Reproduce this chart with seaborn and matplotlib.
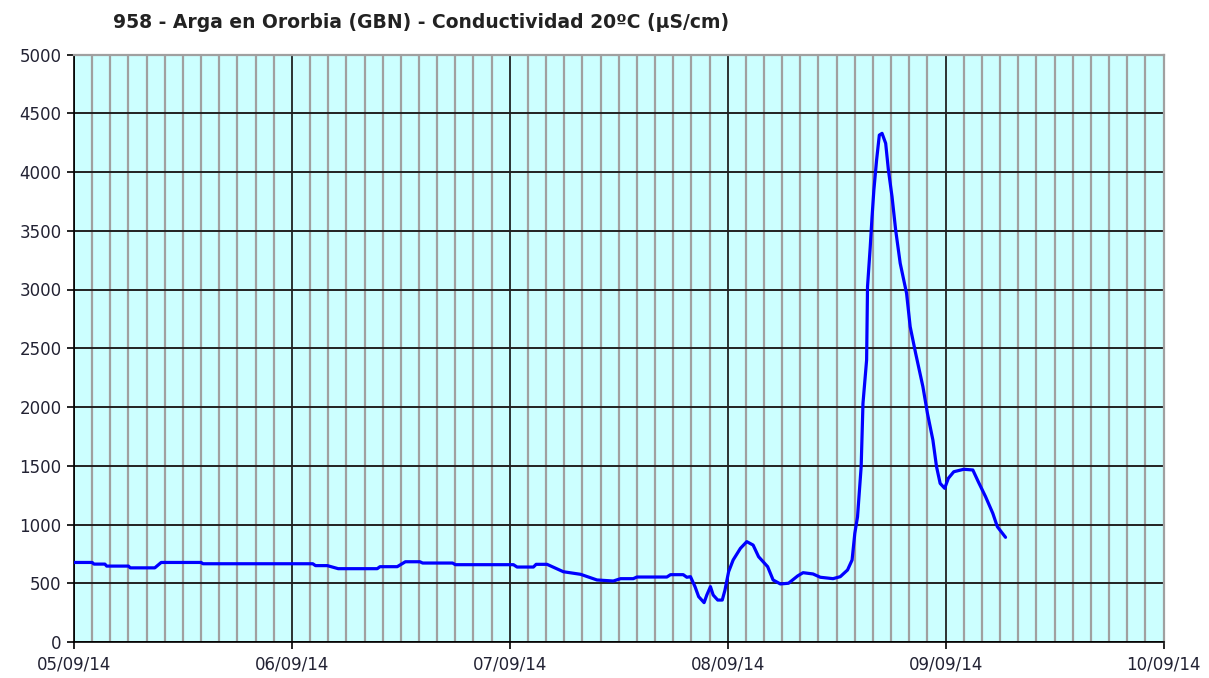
import numpy as np
import pandas as pd
import matplotlib
matplotlib.use("Agg")
import matplotlib.pyplot as plt
import matplotlib.dates as mdates
import seaborn as sns

title = "958 - Arga en Ororbia (GBN) - Conductividad 20ºC (µS/cm)"
start = "2014-09-05 00:00"
# hours since 05/09/14 00:00
hours = [0, 2.0, 2.2, 3.4, 3.6, 6.0, 6.2, 8.9, 9.6, 14.0,
         14.2, 26.3, 26.6, 27.9, 29.1, 33.4, 33.7, 35.6, 36.5, 38.1,
         38.4, 41.7, 42.0, 48.4, 48.8, 50.6, 50.9, 52.1, 53.9, 55.8,
         57.6, 59.4, 60.2, 61.6, 62.0, 65.3, 65.7, 67.1, 67.5, 67.9,
         68.4, 68.8, 69.4, 69.7, 70.1, 70.4, 70.9, 71.4, 71.7, 72.1,
         72.6, 73.4, 74.1, 74.8, 75.4, 76.4, 77.0, 77.8, 78.7, 79.7,
         80.3, 81.4, 82.2, 83.6, 84.4, 85.2, 85.7, 86.0, 86.3, 86.7,
         86.9, 87.3, 87.4, 87.7, 87.9, 88.1, 88.4, 88.7, 89.0, 89.4,
         89.7, 90.1, 90.5, 91.0, 91.7, 92.1, 92.7, 93.5, 94.0, 94.6,
         95.0, 95.4, 95.9, 96.3, 96.9, 98.0, 99.0, 99.6, 100.4, 101.2,
         101.7, 102.6]
values = [677, 677, 663, 663, 646, 646, 631, 631, 677, 677,
          666, 666, 650, 650, 624, 624, 641, 641, 683, 683,
          672, 672, 658, 658, 638, 638, 661, 661, 598, 576,
          528, 519, 539, 539, 553, 553, 573, 573, 551, 556,
          471, 386, 335, 400, 471, 400, 357, 357, 442, 598,
          698, 797, 854, 825, 726, 641, 528, 494, 500, 562,
          590, 579, 551, 539, 556, 613, 698, 925, 1066, 1492,
          2031, 2400, 3024, 3364, 3619, 3847, 4102, 4314, 4329, 4244,
          4017, 3790, 3506, 3223, 2968, 2683, 2457, 2173, 1946, 1719,
          1492, 1350, 1308, 1393, 1449, 1470, 1464, 1364, 1237, 1095,
          981, 891]
x_start = "2014-09-05"
x_end = "2014-09-10"
y_ticks = list(range(0, 5001, 500))

df = pd.DataFrame({
    "time": pd.Timestamp(start) + pd.to_timedelta(hours, unit="h"),
    "value": values,
})

sns.set_style("white")
plt.rcParams['font.family'] = ['DejaVu Sans']

fig = plt.figure(figsize=(12.09, 6.78), dpi=100)
ax = fig.add_axes([74/1209, 1-642/678, (1163.5-74)/1209, (642-54.5)/678])
ax.set_facecolor("#CCFFFF")

ax.xaxis.set_minor_locator(mdates.HourLocator(byhour=range(0, 24, 2)))
ax.xaxis.set_major_locator(mdates.DayLocator())
ax.xaxis.set_major_formatter(mdates.DateFormatter("%d/%m/%y"))
ax.grid(which="minor", axis="x", color="#A0A0A0", linewidth=1.6, zorder=0)
ax.grid(which="major", axis="x", color="#111111", linewidth=1.2, zorder=1)
ax.grid(which="major", axis="y", color="#222222", linewidth=1.4, zorder=1)
ax.set_axisbelow(True)

sns.lineplot(data=df, x="time", y="value", ax=ax, color="#0000FF", linewidth=2.3, zorder=3)

ax.set_xlim(pd.Timestamp(x_start), pd.Timestamp(x_end))
ax.set_ylim(0, 5000)
ax.set_yticks(y_ticks)
ax.set_xlabel("")
ax.set_ylabel("")

for s in ["top", "right"]:
    ax.spines[s].set_color("#A0A0A0")
    ax.spines[s].set_linewidth(1.6)
for s in ["left", "bottom"]:
    ax.spines[s].set_color("black")
    ax.spines[s].set_linewidth(1.2)

ax.tick_params(axis="both", which="major", direction="out", length=5, width=1.2,
               color="black", labelsize=12, labelcolor="#222233", pad=4, bottom=True, left=True)
ax.tick_params(axis="x", which="minor", length=0)
ax.tick_params(axis="x", which="major", pad=5)

fig.text(113/1209, 1-22/678, title, ha="left", va="center", fontsize=13.5,
         fontweight="bold", color="#222222")

fig.savefig("out.png", dpi=100, facecolor="white")
